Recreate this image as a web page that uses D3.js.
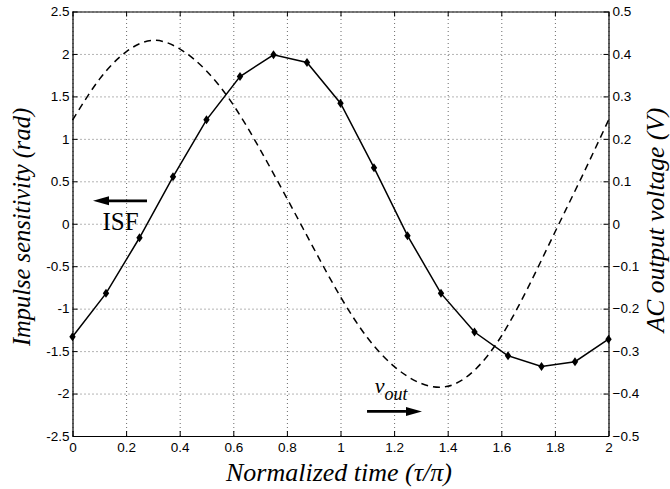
<!DOCTYPE html>
<html>
<head>
<meta charset="utf-8">
<script src="https://cdn.jsdelivr.net/npm/d3@7"></script>
<style>
    body { margin: 0; background: #fff; }
    .tick text { font-family: "Liberation Sans", Arial, sans-serif; font-size: 13.5px; fill: #000; }
    .grid line { stroke: #444; stroke-dasharray: 1,3; stroke-width: 0.8; }
    .grid path { display: none; }
    .title { font-family: "Liberation Serif", "Times New Roman", serif; font-style: italic; }
</style>
</head>
<body>
<svg id="chart" width="670" height="489"></svg>
<script>
// x ticks / y ticks
var xTicks = [0, 0.2, 0.4, 0.6, 0.8, 1, 1.2, 1.4, 1.6, 1.8, 2];
var yLeftTicks = [-2.5, -2, -1.5, -1, -0.5, 0, 0.5, 1, 1.5, 2, 2.5];
var yRightTicks = [-0.5, -0.4, -0.3, -0.2, -0.1, 0, 0.1, 0.2, 0.3, 0.4, 0.5];

// ISF (rad), left axis
var isfTime = [0, 0.125, 0.25, 0.375, 0.5, 0.625, 0.75, 0.875, 1, 1.125, 1.25, 1.375, 1.5, 1.625, 1.75, 1.875, 2];
var isfValue = [-1.33, -0.82, -0.165, 0.553, 1.224, 1.734, 1.99, 1.9, 1.42, 0.66, -0.14, -0.82, -1.275, -1.555, -1.68, -1.625, -1.36];

// v_out (V), right axis
var voutTime = [0, 0.1, 0.2, 0.3, 0.4, 0.5, 0.6, 0.7, 0.8, 0.9, 1, 1.1, 1.2, 1.3, 1.4, 1.5, 1.6, 1.7, 1.8, 1.9, 2];
var voutValue = [0.244, 0.34, 0.405, 0.432, 0.412, 0.36, 0.28, 0.175, 0.06, -0.058, -0.172, -0.268, -0.336, -0.376, -0.383, -0.345, -0.265, -0.15, -0.02, 0.11, 0.244];

(function () {
    var svg = d3.select('#chart');
    var left = 72.5, right = 608.5, top = 11.5, bottom = 436;
    var w = right - left, h = bottom - top;

    var xScale = d3.scaleLinear().domain([0, 2]).range([left, right]);
    var yLeft = d3.scaleLinear().domain([-2.5, 2.5]).range([bottom, top]);
    var yRight = d3.scaleLinear().domain([-0.5, 0.5]).range([bottom, top]);

    // grid
    svg.append('g').attr('class', 'grid')
        .attr('transform', 'translate(0,' + bottom + ')')
        .call(d3.axisBottom(xScale).tickValues(xTicks).tickSize(-h).tickFormat(''));
    svg.append('g').attr('class', 'grid')
        .attr('transform', 'translate(' + left + ',0)')
        .call(d3.axisLeft(yLeft).tickValues(yLeftTicks).tickSize(-w).tickFormat(''));

    // axes, ticks pointing inward
    var fmtL = function (d) { return String(d); };
    var fmtR = function (d) { return String(d).replace('-', '\u2212'); };

    svg.append('g').attr('transform', 'translate(0,' + bottom + ')')
        .call(d3.axisBottom(xScale).tickValues(xTicks).tickSize(-5).tickSizeOuter(0).tickPadding(6).tickFormat(fmtL));
    svg.append('g').attr('transform', 'translate(0,' + top + ')')
        .call(d3.axisTop(xScale).tickValues(xTicks).tickSize(-5).tickSizeOuter(0).tickFormat(''));
    svg.append('g').attr('transform', 'translate(' + left + ',0)')
        .call(d3.axisLeft(yLeft).tickValues(yLeftTicks).tickSize(-5).tickSizeOuter(0).tickPadding(3).tickFormat(fmtL));
    svg.append('g').attr('transform', 'translate(' + right + ',0)')
        .call(d3.axisRight(yRight).tickValues(yRightTicks).tickSize(-5).tickSizeOuter(0).tickPadding(4).tickFormat(fmtR));

    svg.selectAll('.domain').attr('stroke', '#000').attr('stroke-width', 1.2);
    svg.selectAll('.tick line').filter(function () { return !this.closest('.grid'); })
        .attr('stroke', '#000');

    // v_out dashed
    var voutData = voutTime.map(function (t, i) { return [t, voutValue[i]]; });
    svg.append('path')
        .datum(voutData)
        .attr('fill', 'none')
        .attr('stroke', '#000')
        .attr('stroke-width', 1.5)
        .attr('stroke-dasharray', '7,5')
        .attr('d', d3.line().curve(d3.curveNatural)
            .x(function (d) { return xScale(d[0]); })
            .y(function (d) { return yRight(d[1]); }));

    // ISF line + diamonds
    var isfData = isfTime.map(function (t, i) { return [t, isfValue[i]]; });
    svg.append('path')
        .datum(isfData)
        .attr('fill', 'none')
        .attr('stroke', '#000')
        .attr('stroke-width', 1.5)
        .attr('d', d3.line()
            .x(function (d) { return xScale(d[0]); })
            .y(function (d) { return yLeft(d[1]); }));

    svg.selectAll('.marker')
        .data(isfData)
        .enter()
        .append('path')
        .attr('class', 'marker')
        .attr('transform', function (d) { return 'translate(' + xScale(d[0]) + ',' + yLeft(d[1]) + ')'; })
        .attr('d', 'M0,-4.5L3.2,0L0,4.5L-3.2,0Z')
        .attr('fill', '#000');

    // annotations (data coordinates)
    function arrow(x0, x1, y) {
        var px0 = xScale(x0), px1 = xScale(x1), py = yLeft(y);
        var dir = px1 > px0 ? 1 : -1;
        var headLen = 16, headW = 4.5;
        svg.append('line')
            .attr('x1', px0).attr('x2', px1 - dir * headLen)
            .attr('y1', py).attr('y2', py)
            .attr('stroke', '#000').attr('stroke-width', 2.6);
        svg.append('path')
            .attr('d', 'M' + px1 + ',' + py + 'L' + (px1 - dir * headLen) + ',' + (py - headW) +
                'L' + (px1 - dir * headLen) + ',' + (py + headW) + 'Z')
            .attr('fill', '#000');
    }
    arrow(0.278, 0.0765, 0.27);
    arrow(1.099, 1.304, -2.21);

    svg.append('text')
        .attr('x', xScale(0.112)).attr('y', yLeft(-0.075))
        .style('font-family', '"Liberation Serif", "Times New Roman", serif')
        .style('font-size', '25px')
        .text('ISF');

    var vout = svg.append('text')
        .attr('x', xScale(1.128)).attr('y', yLeft(-1.99))
        .style('font-family', '"Liberation Serif", "Times New Roman", serif')
        .style('font-style', 'italic')
        .style('font-size', '22px');
    vout.append('tspan').text('v');
    vout.append('tspan').attr('dy', 7.5).style('font-size', '18px').text('out');

    // axis titles
    svg.append('text').attr('class', 'title')
        .attr('x', 339).attr('y', 481)
        .attr('text-anchor', 'middle')
        .style('font-size', '26px')
        .text('Normalized time (\u03c4/\u03c0)');
    svg.append('text').attr('class', 'title')
        .attr('transform', 'translate(30,' + 227 + ') rotate(-90)')
        .attr('text-anchor', 'middle')
        .style('font-size', '24.5px')
        .text('Impulse sensitivity (rad)');
    svg.append('text').attr('class', 'title')
        .attr('transform', 'translate(664,' + 220 + ') rotate(-90)')
        .attr('text-anchor', 'middle')
        .style('font-size', '25.5px')
        .text('AC output voltage (V)');
})();
</script>
</body>
</html>
